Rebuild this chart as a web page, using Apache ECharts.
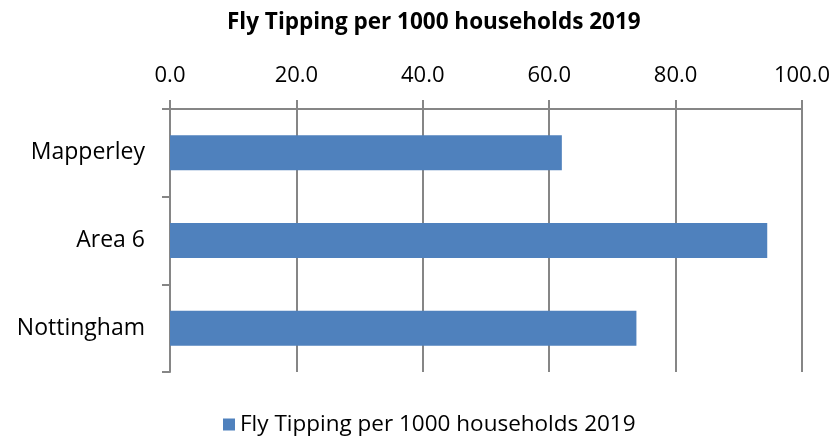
<!DOCTYPE html>
<html>
<head>
<meta charset="utf-8">
<script src="https://cdn.jsdelivr.net/npm/echarts@6/dist/echarts.min.js"></script>
<style>
  html, body { margin: 0; padding: 0; background: #ffffff; }
  #chart { width: 839px; height: 443px; }
</style>
</head>
<body>
<div id="chart"></div>
<script>
// Fly tipping incidents per 1000 households, 2019
const chartTitle = 'Fly Tipping per 1000 households 2019';
const seriesName = 'Fly Tipping per 1000 households 2019';
const categories = ['Mapperley', 'Area 6', 'Nottingham'];
const values = [62.0, 94.5, 73.8];
const axisMin = 0;
const axisMax = 100;
const axisStep = 20;

const FONT = '"Open Sans", "Liberation Sans", sans-serif';
const GRID_GREY = '#868686';

const chart = echarts.init(document.getElementById('chart'), null, { renderer: 'canvas' });

chart.setOption({
  animation: false,
  backgroundColor: '#ffffff',
  title: {
    text: chartTitle,
    left: 222,
    top: 6,
    textStyle: { fontFamily: FONT, fontSize: 22.5, fontWeight: 'bold', color: '#000000' }
  },
  legend: {
    bottom: 2,
    left: 218,
    icon: 'rect',
    itemWidth: 12,
    itemHeight: 12,
    itemGap: 6,
    data: [seriesName],
    textStyle: { fontFamily: FONT, fontSize: 22.5, color: '#000000' }
  },
  grid: { left: 170, right: 37, top: 109, bottom: 71 },
  xAxis: {
    type: 'value',
    position: 'top',
    min: axisMin,
    max: axisMax,
    interval: axisStep,
    axisLine: { show: true, lineStyle: { color: GRID_GREY, width: 2 } },
    axisTick: { show: true, length: 9, lineStyle: { color: GRID_GREY, width: 2 } },
    splitLine: { show: true, lineStyle: { color: GRID_GREY, width: 2 } },
    axisLabel: {
      margin: 22,
      fontFamily: FONT,
      fontSize: 22,
      color: '#000000',
      formatter: v => v.toFixed(1)
    }
  },
  yAxis: {
    type: 'category',
    inverse: true,
    data: categories,
    axisLine: { show: true, lineStyle: { color: GRID_GREY, width: 2 } },
    axisTick: { show: true, length: 8, alignWithLabel: false, lineStyle: { color: GRID_GREY, width: 2 } },
    axisLabel: { margin: 25, fontFamily: FONT, fontSize: 23, color: '#000000' }
  },
  series: [{
    name: seriesName,
    type: 'bar',
    data: values,
    barWidth: '40%',
    itemStyle: { color: '#4F81BD' }
  }]
});
</script>
</body>
</html>
